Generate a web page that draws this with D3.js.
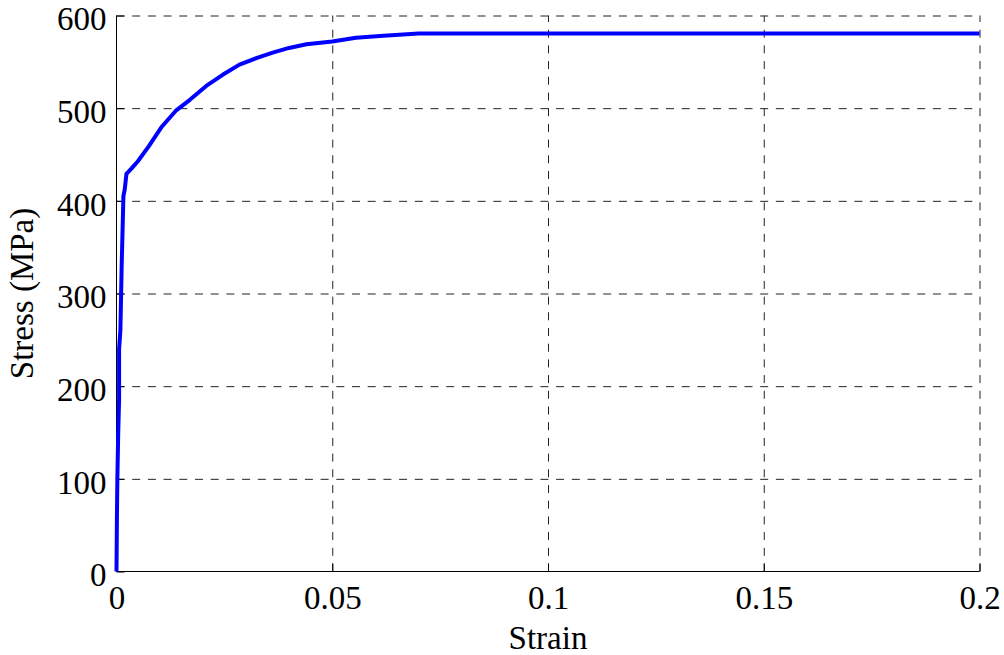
<!DOCTYPE html>
<html lang="en">
<head>
    <meta charset="UTF-8">
    <title>Stress-Strain Curve</title>
    <script type="text/javascript" src="https://d3js.org/d3.v7.min.js"></script>
    <style type="text/css">
        body { margin: 0; background: #fff; }
        text { font-family: "Liberation Serif", "Times New Roman", serif; fill: #000; }
        .grid line { stroke: #222; stroke-width: 1; stroke-dasharray: 8,7.7; }
        .grid path { display: none; }
        .axis path, .axis line { stroke: #000; stroke-width: 1; }
    </style>
</head>
<body>
    <svg width="1004" height="655"></svg>
    <script type="text/javascript">
        // strain / stress (MPa)
        var strain = [0, 0.0001, 0.0002, 0.0004, 0.0006, 0.0006, 0.0009, 0.0012, 0.0016, 0.0019,
                      0.0023, 0.0035, 0.005, 0.0075, 0.0105, 0.0137, 0.017, 0.0208, 0.0246, 0.0285,
                      0.0324, 0.0362, 0.04, 0.044, 0.05, 0.0555, 0.061, 0.07, 0.2];
        var stress = [0, 60, 100, 150, 185, 240, 260, 330, 405, 412,
                      429, 435, 443, 459, 480, 497, 509, 524, 536, 547,
                      554, 560, 565, 569, 572, 576, 578, 580.5, 580.5];
        var xTicks = [0, 0.05, 0.1, 0.15, 0.2];
        var yTicks = [0, 100, 200, 300, 400, 500, 600];

        var svg = d3.select("svg"),
            marginLeft = 116.5, marginTop = 15.5,
            width = 863,
            height = 556;

        var x = d3.scaleLinear().domain([0, 0.2]).range([0, width]),
            y = d3.scaleLinear().domain([0, 600]).range([height, 0]);

        var g = svg.append("g")
            .attr("transform", "translate(" + marginLeft + "," + marginTop + ")");

        // dashed grid (skip the zero lines, the axes sit there)
        g.append("g")
            .attr("class", "grid")
            .attr("transform", "translate(0," + height + ")")
            .call(d3.axisBottom(x).tickValues(xTicks.slice(1)).tickSize(-height).tickFormat(""));
        g.append("g")
            .attr("class", "grid")
            .call(d3.axisLeft(y).tickValues(yTicks.slice(1)).tickSize(-width).tickFormat(""));

        var xAxis = g.append("g")
            .attr("class", "axis")
            .attr("transform", "translate(0," + height + ")")
            .call(d3.axisBottom(x).tickValues(xTicks).tickSizeInner(-8).tickSizeOuter(0)
                .tickFormat(function(d) { return d3.format("")(d); }));
        xAxis.selectAll("text")
            .attr("y", 37).attr("dy", 0)
            .attr("font-size", "33px");

        var yAxis = g.append("g")
            .attr("class", "axis")
            .call(d3.axisLeft(y).tickValues(yTicks).tickSizeInner(-8).tickSizeOuter(0).tickPadding(10));
        yAxis.selectAll("text")
            .attr("dy", "0.43em")
            .attr("font-size", "33px");
        xAxis.select(".domain").attr("d", "M0,0H" + width);
        yAxis.select(".domain").attr("d", "M0,0V" + height);

        var pts = strain.map(function(s, i) { return [s, stress[i]]; });

        var line = d3.line()
            .x(function(d) { return x(d[0]); })
            .y(function(d) { return y(d[1]); });

        g.append("path")
            .datum(pts)
            .attr("fill", "none")
            .attr("stroke", "#0000ff")
            .attr("stroke-width", 4)
            .attr("stroke-linejoin", "round")
            .attr("d", line);

        svg.append("text")
            .attr("x", marginLeft + width / 2)
            .attr("y", 649)
            .attr("text-anchor", "middle")
            .attr("font-size", "33px")
            .text("Strain");

        svg.append("text")
            .attr("transform", "translate(33," + (marginTop + height / 2) + ") rotate(-90)")
            .attr("text-anchor", "middle")
            .attr("font-size", "33px")
            .text("Stress (MPa)");
    </script>
</body>
</html>
